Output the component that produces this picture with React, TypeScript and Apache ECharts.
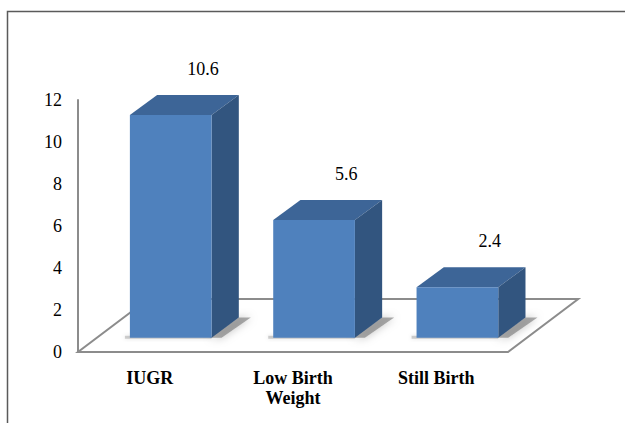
import React, { useEffect, useRef } from "react";
import * as echarts from "echarts";

const categories = ["IUGR", "Low Birth\nWeight", "Still Birth"];
const values = [10.6, 5.6, 2.4];
const yTicks = { min: 0, max: 12, interval: 2 };

const FRONT = "#4F81BD";
const TOP = "#3D6597";
const SIDE = "#32557F";
const FONT = "Liberation Serif";

export default function App() {
  const ref = useRef<HTMLDivElement>(null);
  useEffect(() => {
    if (!ref.current) return;
    const chart = echarts.init(ref.current, undefined, { renderer: "svg" });

    const floorItem = (params: any, api: any) => {
      const p0 = api.coord([0, 0]);
      const band = api.size([1, 0])[0];
      const n = categories.length;
      const x0 = p0[0] - band / 2;
      const x1 = x0 + band * n;
      const y = p0[1];
      const ddx = band * 0.49;
      const ddy = band * 0.37;
      return {
        type: "polygon",
        shape: {
          points: [
            [x0, y],
            [x1, y],
            [x1 + ddx, y - ddy],
            [x0 + ddx, y - ddy],
          ],
        },
        style: { fill: "#fff", stroke: "#8C8C8C", lineWidth: 2 },
      };
    };

    const barItem = (params: any, api: any) => {
      const idx = api.value(0);
      const val = api.value(1);
      const base = api.coord([idx, 0]);
      const top = api.coord([idx, val]);
      const band = api.size([1, 0])[0];
      const w = band * 0.57;
      const offX = band * 0.147;
      const offY = band * 0.1;
      const dx = band * 0.19;
      const dy = band * 0.14;
      const h = base[1] - top[1];
      const fx0 = base[0] - w / 2 + offX;
      const fx1 = fx0 + w;
      const fyB = base[1] - offY;
      const fyT = fyB - h;
      return {
        type: "group",
        children: [
          {
            type: "polygon",
            shape: {
              points: [
                [fx1 - 2, fyB],
                [fx1 + dx, fyB - dy],
                [fx1 + dx + 12, fyB - dy],
                [fx1 + 10, fyB],
              ],
            },
            style: {
              fill: "rgba(90,90,90,0.5)",
              shadowBlur: 8,
              shadowColor: "rgba(0,0,0,0.5)",
            },
          },
          {
            type: "polygon",
            shape: {
              points: [
                [fx0 - 5, fyB + 1],
                [fx1, fyB + 1],
                [fx1, fyB - 2],
                [fx0 - 5, fyB - 2],
              ],
            },
            style: {
              fill: "rgba(120,120,120,0.35)",
              shadowBlur: 4,
              shadowColor: "rgba(0,0,0,0.35)",
            },
          },
          {
            type: "polygon",
            shape: {
              points: [
                [fx0, fyT],
                [fx0 + dx, fyT - dy],
                [fx1 + dx, fyT - dy],
                [fx1, fyT],
              ],
            },
            style: { fill: TOP },
          },
          {
            type: "polygon",
            shape: {
              points: [
                [fx1, fyT],
                [fx1 + dx, fyT - dy],
                [fx1 + dx, fyB - dy],
                [fx1, fyB],
              ],
            },
            style: { fill: SIDE },
          },
          {
            type: "rect",
            shape: { x: fx0, y: fyT, width: w, height: h },
            style: { fill: FRONT },
          },
          {
            type: "text",
            x: (fx0 + fx1) / 2 + dx + 5,
            y: fyT - dy - 26,
            style: {
              text: String(val),
              fill: "#000",
              fontFamily: FONT,
              fontSize: 18,
              align: "center",
              verticalAlign: "middle",
            },
          },
        ],
      };
    };

    chart.setOption({
      animation: false,
      backgroundColor: "#fff",
      textStyle: { fontFamily: FONT },
      grid: { left: 78, right: 117, top: 100, bottom: 71, containLabel: false },
      xAxis: {
        type: "category",
        data: categories,
        boundaryGap: true,
        axisLine: { show: false },
        axisTick: { show: false },
        axisLabel: {
          color: "#000",
          fontFamily: FONT,
          fontSize: 18,
          fontWeight: "bold",
          lineHeight: 20,
          margin: 16,
          interval: 0,
        },
      },
      yAxis: {
        type: "value",
        min: yTicks.min,
        max: yTicks.max,
        interval: yTicks.interval,
        axisLine: { show: true, lineStyle: { color: "#8C8C8C", width: 2 } },
        axisTick: { show: false },
        splitLine: { show: false },
        axisLabel: {
          color: "#000",
          fontFamily: FONT,
          fontSize: 18,
          margin: 16,
        },
      },
      graphic: [
        {
          type: "rect",
          shape: { x: 7.5, y: 11.5, width: 800, height: 600 },
          style: { fill: "none", stroke: "#5A5A5A", lineWidth: 1.5 },
          z: 100,
        },
      ],
      series: [
        {
          type: "custom",
          renderItem: floorItem,
          data: [[0, 0]],
          z: 1,
          silent: true,
        },
        {
          type: "custom",
          renderItem: barItem,
          data: values.map((v, i) => [i, v]),
          z: 2,
        },
      ],
    });
    return () => chart.dispose();
  }, []);
  return <div ref={ref} style={{ width: 625, height: 423, position: "absolute", left: 0, top: 0 }} />;
}
